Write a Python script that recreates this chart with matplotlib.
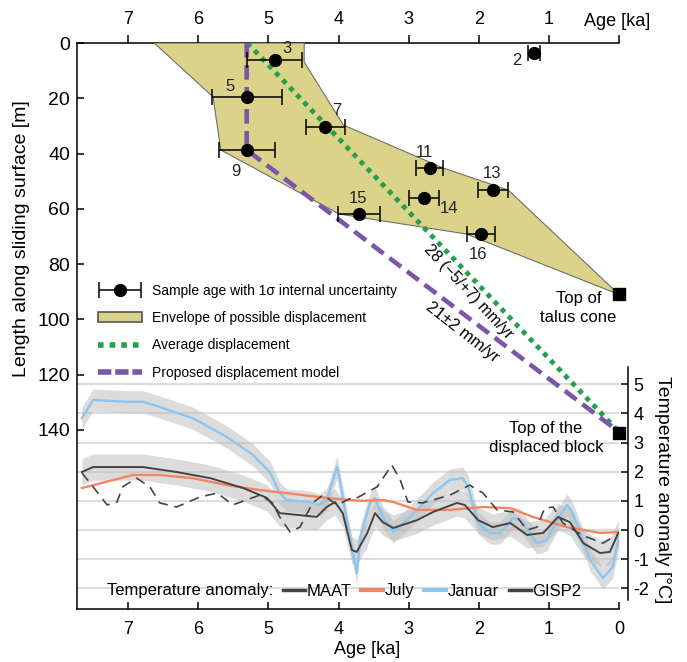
import numpy as np
import matplotlib.pyplot as plt
from matplotlib.patches import Patch
from matplotlib.lines import Line2D
from matplotlib.legend_handler import HandlerErrorbar
from matplotlib.container import ErrorbarContainer

plt.rcParams['font.family'] = ['Liberation Sans', 'DejaVu Sans']
plt.rcParams['axes.unicode_minus'] = False

# Samples: number, age [ka], 1 sigma [ka], length along sliding surface [m]
sample_id = ['2', '3', '5', '7', '9', '11', '13', '14', '15', '16']
sample_age = [1.21, 4.91, 5.31, 4.19, 5.31, 2.70, 1.80, 2.78, 3.71, 1.97]
sample_err = [0.09, 0.39, 0.50, 0.28, 0.40, 0.19, 0.21, 0.21, 0.30, 0.20]
sample_len = [3.6, 6.2, 19.5, 30.4, 38.7, 45.3, 53.2, 56.1, 61.9, 69.1]
# label offsets in pixels
label_dx = [-17, 12, -17, 12, -11, -5, -1, 25, -1, -3]
label_dy = [-8, 12, 10, 17, -22, 16, 17, -10, 16, -21]

# Envelope of possible displacement
env_age = [6.63, 4.49, 4.49, 3.93, 2.50, 1.58, 0.0, 2.18, 3.99, 5.68, 5.79]
env_len = [0.0, 0.0, 6.9, 29.7, 45.3, 53.2, 91.0, 69.1, 61.9, 38.7, 19.5]

# Average displacement / proposed model
avg_age = [5.30, 0.0]
avg_len = [0.0, 140.7]
model_age = [5.31, 5.31, 0.0]
model_len = [0.0, 38.7, 140.7]

talus_top = (0.0, 91.0)
block_top = (0.0, 141.0)

# Temperature anomalies [°C]
jan_age = [7.66, 7.50, 7.02, 6.79, 6.55, 6.08, 5.59, 5.22, 4.98, 4.84, 4.74, 4.41,
           4.27, 4.17, 4.02, 3.94, 3.84, 3.74, 3.69, 3.55, 3.48, 3.37, 3.22, 2.98,
           2.65, 2.41, 2.23, 2.15, 2.01, 1.84, 1.70, 1.51, 1.41, 1.17, 1.03, 0.88,
           0.74, 0.66, 0.41, 0.23, 0.09, 0.0]
jan_t = [3.84, 4.46, 4.40, 4.40, 4.22, 3.84, 3.19, 2.57, 1.99, 1.27, 1.03, 0.96,
         0.86, 1.03, 2.16, 1.13, -0.24, -1.48, -0.24, 0.93, 1.10, 0.45, -0.07, 0.45,
         1.27, 1.72, 1.78, 1.48, 0.24, -0.10, -0.10, 0.41, 0.34, -0.45, -0.34, 0.34,
         0.86, 0.58, -1.03, -1.65, -1.27, -0.24]
jan_spread = 0.38

maat_age = [7.66, 7.50, 6.79, 6.31, 5.83, 5.36, 5.02, 4.84, 4.55, 4.31, 4.17, 4.05,
            3.94, 3.81, 3.74, 3.59, 3.48, 3.37, 3.22, 2.88, 2.65, 2.31, 2.20, 2.01,
            1.80, 1.55, 1.31, 1.08, 0.87, 0.70, 0.51, 0.27, 0.13, 0.01]
maat_t = [1.99, 2.16, 2.16, 1.99, 1.78, 1.44, 1.10, 0.58, 0.51, 0.45, 0.79, 0.96,
          0.58, -0.69, -0.75, -0.10, 0.58, 0.27, 0.07, 0.34, 0.62, 0.93, 0.86, 0.34,
          0.10, 0.24, -0.17, -0.10, 0.45, 0.27, -0.45, -0.79, -0.75, -0.10]
maat_spread = 0.45

july_age = [7.66, 6.93, 6.55, 6.08, 5.59, 5.12, 4.65, 4.17, 3.69, 3.37, 3.22, 2.88,
            2.41, 1.94, 1.55, 1.23, 0.74, 0.27, 0.01]
july_t = [1.44, 1.89, 1.89, 1.78, 1.54, 1.37, 1.24, 1.10, 1.00, 1.03, 0.96, 0.69,
          0.69, 0.79, 0.75, 0.45, 0.10, -0.10, -0.07]

gisp_age = [7.66, 7.50, 7.30, 7.16, 7.08, 6.88, 6.69, 6.55, 6.31, 5.98, 5.73, 5.51,
            5.12, 4.94, 4.84, 4.69, 4.55, 4.37, 4.22, 4.02, 3.79, 3.74, 3.45, 3.24,
            3.12, 3.01, 2.80, 2.41, 2.13, 1.94, 1.74, 1.51, 1.31, 1.17, 1.06, 0.94,
            0.80, 0.60, 0.46, 0.23, 0.03]
gisp_t = [1.96, 1.48, 0.86, 0.96, 1.48, 1.78, 1.48, 0.93, 0.79, 1.13, 1.27, 0.86,
          1.20, 0.93, 0.45, -0.07, 0.10, 0.93, 1.20, 0.86, 1.13, 1.10, 1.48, 2.23,
          1.72, 0.96, 0.93, 1.20, 1.54, 1.27, 0.69, 0.62, 0.00, 0.10, 0.75, 0.79,
          0.24, -0.07, -0.24, -0.45, -0.17]

env_color = '#dcd38a'
green = '#23a04a'
purple = '#7b55a8'
jan_color = '#8cc6ee'
july_color = '#f4865f'
dark = '#444444'

fig = plt.figure(figsize=(6.87, 6.62), dpi=100)
ax = fig.add_axes([77 / 687, 53 / 662, 542 / 687, 566 / 662])
ax2 = ax.twinx()
ax.set_zorder(ax2.get_zorder() + 1)
ax.patch.set_visible(False)

# ---- temperature panel
ax2.set_ylim(-2.71, 16.71)
ax2.set_yticks(range(-2, 6))
ax2.grid(axis='y', color='#dddddd', lw=1.5)
ax2.set_axisbelow(True)
ax2.fill_between(jan_age, np.array(jan_t) - jan_spread, np.array(jan_t) + jan_spread,
                 color='#bbbbbb', alpha=0.5, lw=0)
ax2.fill_between(maat_age, np.array(maat_t) - maat_spread, np.array(maat_t) + maat_spread,
                 color='#bbbbbb', alpha=0.5, lw=0)
ax2.plot(jan_age, jan_t, color=jan_color, lw=1.7)
ax2.plot(july_age, july_t, color=july_color, lw=1.7)
ax2.plot(maat_age, maat_t, color=dark, lw=1.4)
ax2.plot(gisp_age, gisp_t, color=dark, lw=1.2, dashes=(6, 4))
for s in ['left', 'top', 'bottom']:
    ax2.spines[s].set_visible(False)
ax2.spines['right'].set_bounds(-2.4, 5.6)
ax2.spines['right'].set_position(('outward', 6.5))
ax2.spines['right'].set_linewidth(1.1)
ax2.tick_params(axis='y', direction='in', length=5, width=1.1, pad=4, labelsize=13)

# ---- displacement panel
ax.fill(env_age, env_len, facecolor=env_color, edgecolor='#6e6e6e', lw=0.8, zorder=1)
ax.plot(avg_age, avg_len, color=green, lw=3.5, dashes=(1, 1.1), zorder=3)
ax.plot(model_age, model_len, color=purple, lw=3.3, dashes=(3.2, 1.6), zorder=3)
eb = ax.errorbar(sample_age, sample_len, xerr=sample_err, fmt='o', color='black',
                 ms=8.5, elinewidth=1.1, capsize=6, capthick=1.1, zorder=5)
for sid, a, l, dx, dy in zip(sample_id, sample_age, sample_len, label_dx, label_dy):
    ax.annotate(sid, (a, l), xytext=(dx, dy), textcoords='offset pixels',
                ha='center', va='center', fontsize=12, color='#222222')

ax.plot(*talus_top, 's', color='black', ms=8, clip_on=False, zorder=6)
ax.plot(*block_top, 's', color='black', ms=8, clip_on=False, zorder=6)
ax.text(0.58, 95.9, 'Top of\ntalus cone', ha='center', va='center', fontsize=12,
        linespacing=1.35)
ax.text(1.04, 142.9, 'Top of the\ndisplaced block', ha='center', va='center',
        fontsize=12, linespacing=1.35)
ax.text(2.15, 90.1, '28 (−5/+7) mm/yr', rotation=-47, rotation_mode='anchor',
        ha='center', va='center', fontsize=11.5)
ax.text(2.24, 104.6, '21±2 mm/yr', rotation=-38, rotation_mode='anchor',
        ha='center', va='center', fontsize=12)

ax.set_xlim(7.73, 0)
ax.set_ylim(204.8, 0)
ax.set_xticks(range(8))
ax.set_yticks(range(0, 141, 20))
ax.tick_params(axis='x', direction='in', length=5, width=1.1, pad=9, labelsize=13)
ax.tick_params(axis='y', direction='in', length=5, width=1.1, pad=5, labelsize=14)
ax.spines['right'].set_visible(False)
ax.spines['top'].set_visible(False)
ax.spines['left'].set_linewidth(1.1)
ax.spines['bottom'].set_linewidth(1.1)
ax.set_ylabel('Length along sliding surface [m]', fontsize=14)
ax.yaxis.set_label_coords(-0.087, 0.655)

secax = ax.secondary_xaxis('top')
secax.set_xticks([0, 1, 2, 3, 4, 5, 6, 7], ['', '1', '2', '3', '4', '5', '6', '7'])
secax.tick_params(direction='out', length=6, width=1.1, pad=5, labelsize=13)
secax.spines['top'].set_linewidth(1.1)

fig.text(617 / 687, 1 - 22 / 662, 'Age [ka]', ha='center', va='center', fontsize=13)
fig.text(367 / 687, 1 - 650 / 662, 'Age [ka]', ha='center', va='center', fontsize=13)
fig.text(662 / 687, 1 - 490 / 662, 'Temperature anomaly [°C]', rotation=-90,
         ha='center', va='center', fontsize=14)

# legend for displacement
handles = [eb, Patch(facecolor=env_color, edgecolor='#555555', lw=1.2),
           Line2D([], [], color=green, lw=4, dashes=(1, 1.1)),
           Line2D([], [], color=purple, lw=4, dashes=(2.4, 0.7))]
labels = ['Sample age with 1σ internal uncertainty', 'Envelope of possible displacement',
          'Average displacement', 'Proposed displacement model']
ax.legend(handles, labels, loc='upper left', bbox_to_anchor=(98 / 687, 1 - 284 / 662),
          bbox_transform=fig.transFigure, frameon=False, fontsize=10,
          handlelength=3.2, handletextpad=0.7, labelspacing=0.95, borderpad=0,
          borderaxespad=0,
          handler_map={ErrorbarContainer: HandlerErrorbar(xerr_size=1.5)})

# legend for temperature
fig.text(107 / 687, 1 - 591 / 662, 'Temperature anomaly:', ha='left', va='center',
         fontsize=12)
t_handles = [Line2D([], [], color=dark, lw=2.5), Line2D([], [], color=july_color, lw=3),
             Line2D([], [], color=jan_color, lw=3), Line2D([], [], color=dark, lw=2.5)]
ax2.legend(t_handles, ['MAAT', 'July', 'Januar', 'GISP2'], loc='center left',
           bbox_to_anchor=(283 / 687, 1 - 591 / 662), bbox_transform=fig.transFigure,
           ncol=4, frameon=False, fontsize=12, handlelength=1.3, handletextpad=0.1,
           columnspacing=0.6, borderpad=0, borderaxespad=0)

fig.savefig('out.png', dpi=100)
